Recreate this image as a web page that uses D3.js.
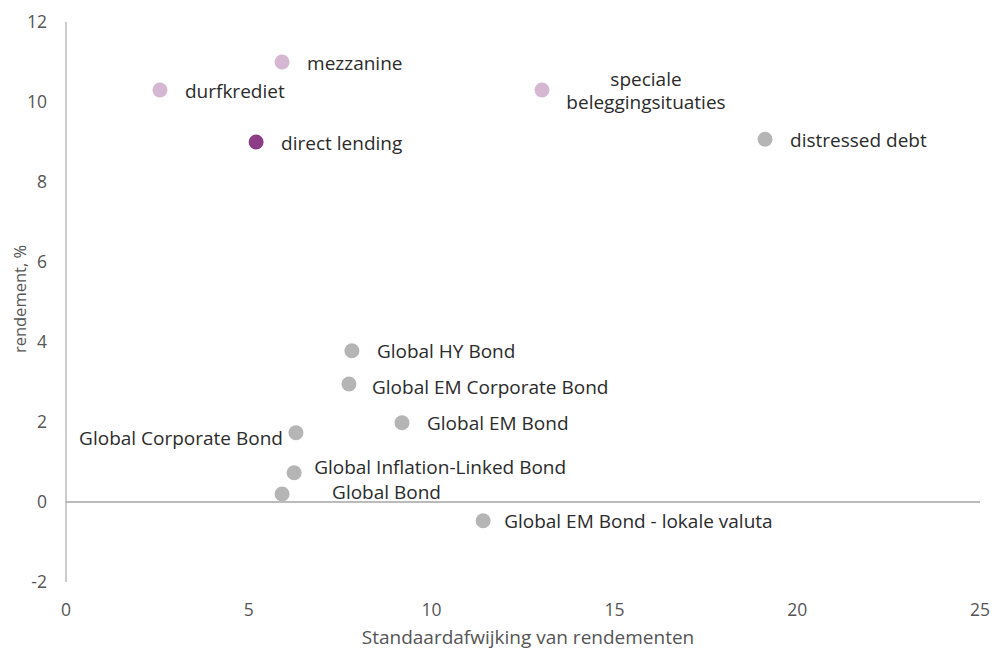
<!DOCTYPE html>
<html>
<head>
<meta charset="utf-8">
<script src="https://cdn.jsdelivr.net/npm/d3@7"></script>
<style>
  html, body { margin: 0; padding: 0; background: #fff; }
  svg { display: block; font-family: "Open Sans", Lato, sans-serif; }
</style>
</head>
<body>
<svg id="chart" width="994" height="651"></svg>
<script>
// Risk/return of credit strategies vs. global bond indices
const names = [
  "durfkrediet", "mezzanine", "direct lending", "speciale\nbeleggingsituaties",
  "distressed debt", "Global HY Bond", "Global EM Corporate Bond", "Global EM Bond",
  "Global Corporate Bond", "Global Inflation-Linked Bond", "Global Bond",
  "Global EM Bond - lokale valuta"
];
const stdev = [2.57, 5.91, 5.2, 13.02, 19.12, 7.82, 7.74, 9.19, 6.29, 6.24, 5.91, 11.41];
const returns = [10.3, 11.0, 9.0, 10.3, 9.07, 3.78, 2.95, 1.98, 1.73, 0.73, 0.2, -0.47];
const groups = ["private", "private", "highlight", "private", "other", "other", "other",
                "other", "other", "other", "other", "other"];
const xTicks = [0, 5, 10, 15, 20, 25];
const yTicks = [-2, 0, 2, 4, 6, 8, 10, 12];

const colors = { private: "#d5b7d2", highlight: "#8d3d85", other: "#b5b5b5" };

// label offsets relative to each dot (px)
const labelOffset = {
  "Global Corporate Bond": { dx: -13, dy: 6, anchor: "end" },
  "Global Inflation-Linked Bond": { dx: 20, dy: -5, anchor: "start" },
  "Global Bond": { dx: 50, dy: -2, anchor: "start" },
  "Global EM Bond - lokale valuta": { dx: 21, dy: 1, anchor: "start" },
  "Global EM Corporate Bond": { dx: 23, dy: 3, anchor: "start" },
  "speciale\nbeleggingsituaties": { dx: 104, dy: -11, anchor: "middle" }
};

const svg = d3.select("#chart");
const plotLeft = 66, plotRight = 980, plotTop = 22, plotBottom = 582;

const x = d3.scaleLinear().domain([0, 25]).range([plotLeft, plotRight]);
const y = d3.scaleLinear().domain([-2, 12]).range([plotBottom, plotTop]);

// y axis line and labels
svg.append("line")
  .attr("x1", plotLeft).attr("x2", plotLeft).attr("y1", y(12)).attr("y2", y(-2))
  .attr("stroke", "#9a9a9a").attr("stroke-width", 1);
svg.append("g").selectAll("text").data(yTicks).join("text")
  .attr("x", 47).attr("y", d => y(d)).attr("dy", "0.35em")
  .attr("text-anchor", "end").attr("font-size", 17.5).attr("fill", "#555")
  .text(d => d);

// zero line
svg.append("line")
  .attr("x1", x(0)).attr("x2", x(25)).attr("y1", y(0)).attr("y2", y(0))
  .attr("stroke", "#a5a5a5").attr("stroke-width", 1.3);

// x tick labels
svg.append("g").selectAll("text").data(xTicks).join("text")
  .attr("x", d => x(d)).attr("y", 610).attr("dy", "0.35em")
  .attr("text-anchor", "middle").attr("font-size", 17.5).attr("fill", "#555")
  .text(d => d);

// axis titles
svg.append("text")
  .attr("x", 528).attr("y", 644).attr("text-anchor", "middle")
  .attr("font-size", 19).attr("fill", "#555")
  .text("Standaardafwijking van rendementen");
svg.append("text")
  .attr("transform", "translate(20,299) rotate(-90)")
  .attr("text-anchor", "middle").attr("dy", "0.35em")
  .attr("font-size", 16.5).attr("fill", "#555")
  .text("rendement, %");

// dots
const data = names.map((n, i) => ({ name: n, sd: stdev[i], ret: returns[i], group: groups[i] }));
svg.append("g").selectAll("circle").data(data).join("circle")
  .attr("cx", d => x(d.sd)).attr("cy", d => y(d.ret)).attr("r", 7.5)
  .attr("fill", d => colors[d.group]);

// labels
const lbl = svg.append("g").selectAll("text").data(data).join("text")
  .attr("x", d => x(d.sd) + (labelOffset[d.name] ? labelOffset[d.name].dx : 25))
  .attr("y", d => y(d.ret) + (labelOffset[d.name] ? labelOffset[d.name].dy : 1))
  .attr("dy", "0.35em")
  .attr("text-anchor", d => labelOffset[d.name] ? labelOffset[d.name].anchor : "start")
  .attr("font-size", 19).attr("fill", "#2b2b2b");
lbl.each(function(d) {
  const lines = d.name.split("\n");
  const t = d3.select(this);
  if (lines.length === 1) { t.text(d.name); return; }
  lines.forEach((ln, i) => {
    t.append("tspan").attr("x", t.attr("x"))
      .attr("dy", i === 0 ? "0.35em" : "1.25em").text(ln);
  });
});
</script>
</body>
</html>
